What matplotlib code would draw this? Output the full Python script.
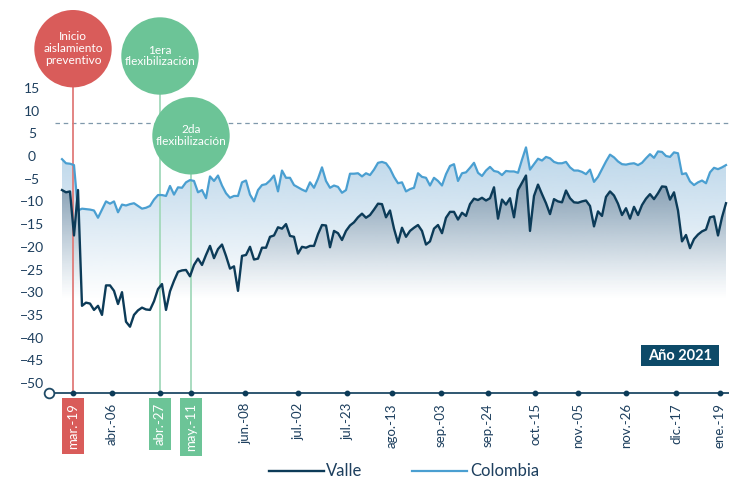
import numpy as np
import matplotlib
matplotlib.use("Agg")
from matplotlib import pyplot as plt
from matplotlib import colors as mcolors
from matplotlib.patches import Polygon, Circle, Rectangle
from matplotlib.lines import Line2D
from matplotlib.transforms import IdentityTransform

plt.rcParams['font.family'] = ['Lato', 'DejaVu Sans']

# series (one value per trading day, mar-2020 .. ene-2021)
valle = [
    -7.5, -8.0, -7.8, -17.5, -7.5, -33.0, -32.3, -32.5, -33.9, -33.0,
    -35.0, -28.5, -28.5, -29.7, -32.6, -30.0, -36.5, -37.6, -35.0, -34.0,
    -33.4, -33.8, -33.9, -32.0, -29.3, -28.2, -33.9, -29.8, -27.5, -25.5,
    -25.2, -25.1, -26.5, -24.0, -22.6, -24.0, -21.8, -19.8, -22.5, -20.5,
    -19.5, -22.0, -24.8, -24.3, -29.7, -22.0, -21.8, -20.0, -22.8, -22.6,
    -20.2, -20.2, -17.8, -17.5, -15.7, -16.0, -15.0, -17.6, -17.8, -21.5,
    -20.0, -20.2, -19.8, -19.8, -17.2, -15.2, -15.3, -20.1, -16.5, -17.0,
    -18.5, -16.5, -15.3, -14.6, -13.5, -12.7, -13.6, -13.0, -11.8, -10.5,
    -10.6, -13.5, -12.0, -16.0, -19.1, -15.8, -17.8, -16.5, -15.8, -15.2,
    -16.5, -19.5, -18.8, -16.0, -15.2, -17.0, -13.6, -12.3, -12.3, -14.0,
    -12.5, -13.2, -10.6, -9.4, -9.7, -9.2, -9.8, -9.3, -6.9, -13.8,
    -9.6, -10.7, -9.3, -13.5, -7.5, -5.9, -4.3, -16.5, -8.8, -6.3,
    -8.4, -10.4, -12.8, -9.5, -10.0, -10.2, -7.6, -9.3, -10.2, -10.3,
    -10.0, -9.8, -11.0, -15.5, -12.2, -13.2, -9.0, -7.8, -8.7, -10.5,
    -13.0, -11.5, -13.8, -11.2, -13.0, -10.8, -9.4, -8.4, -9.5, -8.2,
    -6.7, -6.8, -9.6, -8.0, -12.0, -18.8, -17.4, -20.3, -18.3, -17.3,
    -16.6, -16.2, -13.5, -13.3, -17.5, -13.5, -10.4,
]
colombia = [
    -0.7, -1.6, -1.7, -2.0, -12.0, -11.6, -11.7, -11.8, -12.0, -13.6,
    -11.8, -10.0, -10.5, -10.0, -12.4, -10.7, -10.9, -10.6, -10.4, -11.0,
    -11.6, -11.4, -11.0, -9.6, -8.6, -8.6, -8.8, -6.6, -8.5, -6.9,
    -7.0, -5.8, -5.3, -5.5, -8.0, -7.5, -9.3, -4.5, -5.5, -4.3,
    -6.5, -8.2, -9.2, -8.8, -8.8, -5.8, -5.4, -8.5, -10.0, -7.5,
    -6.4, -6.2, -5.4, -4.3, -7.8, -3.2, -4.8, -4.8, -6.4, -6.9,
    -7.4, -7.8, -5.8, -7.0, -5.0, -2.5, -5.5, -7.0, -6.5, -6.8,
    -8.1, -7.5, -3.9, -3.9, -3.8, -4.5, -3.8, -4.2, -3.0, -1.5,
    -1.3, -1.6, -2.8, -4.6, -6.0, -5.8, -7.8, -7.3, -7.0, -3.8,
    -4.6, -4.8, -6.5, -4.8, -5.5, -6.5, -4.0, -2.2, -1.8, -5.5,
    -3.8, -3.6, -2.6, -1.5, -3.7, -4.4, -3.2, -2.4, -3.3, -3.5,
    -4.2, -3.3, -3.4, -3.4, -3.7, -0.8, 1.9, -3.0, -1.8, -0.6,
    -1.0, -0.2, -0.5, -1.3, -1.6, -1.6, -1.3, -2.5, -3.2, -3.2,
    -3.5, -4.0, -3.0, -5.7, -4.6, -2.9, -1.2, 0.3, -0.3, -1.2,
    -1.8, -1.9, -1.7, -1.6, -2.0, -1.5, -0.5, 0.4, -0.4, 1.0,
    0.9, 0.0, -0.2, 0.8, 0.6, -4.0, -3.8, -5.6, -6.4, -5.8,
    -5.4, -6.0, -3.6, -2.6, -2.9, -2.5, -2.0,
]
tick_pos = [2.75, 12.5, 24.5, 32.25, 45.75, 59, 71.25, 82.5, 94.75,
            106.5, 118.25, 129, 141, 153.5, 164.5]
tick_labels = ["mar.-19", "abr.-06", "abr.-27", "may.-11", "jun.-08", "jul.-02",
               "jul.-23", "ago.-13", "sep.-03", "sep.-24", "oct.-15", "nov.-05",
               "nov.-26", "dic.-17", "ene.-19"]
ref_level = 7.3

navy = "#0c3b58"
txt = "#1d3f5e"
blue = "#4a9fd1"
red = "#d95c5a"
green = "#6cc497"

x = np.arange(len(valle))

fig = plt.figure(figsize=(7.29, 4.82), dpi=100)
ax = fig.add_axes([49/729, 89/482, 680/729, 393/482])


def gradient_fill(xs, ys, rgb, a_top, y_top, y_bot, power, z):
    n = 256
    t = np.linspace(1, 0, n)
    img = np.zeros((n, 1, 4))
    img[:, :, :3] = mcolors.to_rgb(rgb)
    img[:, 0, 3] = a_top * t ** power
    im = ax.imshow(img, aspect='auto', extent=[xs[0], xs[-1], y_bot, y_top],
                   origin='upper', zorder=z, interpolation='bilinear')
    verts = np.vstack([[xs[0], y_bot], np.column_stack([xs, ys]), [xs[-1], y_bot]])
    clip = Polygon(verts, closed=True, facecolor='none', edgecolor='none')
    ax.add_patch(clip)
    im.set_clip_path(clip)


gradient_fill(x, colombia, "#a9cbe4", 0.8, 2.0, -31.5, 1.0, 1)
gradient_fill(x, valle, "#34506a", 0.5, -4.0, -31.5, 1.3, 2)

ax.axhline(ref_level, xmin=6/680, color="#7f98ab", lw=0.9, ls=(0, (3.6, 3)), zorder=2)

# event markers
events = [("Inicio\naislamiento\npreventivo", 0, 48.7, red, "#e07b79"),
          ("1era\nflexibilización", 2, 56.0, green, "#a3d9bb"),
          ("2da\nflexibilización", 3, 135.8, green, "#a3d9bb")]
ax.set_xlim(-3.25, 166.75)
ax.set_ylim(-52.2, 34.36)
for label, ti, ytop, c, lc in events:
    xp = tick_pos[ti]
    xd = ax.transData.transform((xp, 0))[0]
    yd = 482 - ytop
    yv = ax.transData.inverted().transform((xd, yd))[1]
    ax.plot([xp, xp], [-52.2, yv], color=lc, lw=1.3, zorder=3)
    ax.add_patch(Circle((xd, yd), 38.7, transform=IdentityTransform(),
                        facecolor=c, edgecolor='none', zorder=10, clip_on=False))
    ax.text(xd, yd, label, transform=IdentityTransform(), ha='center', va='center',
            color='white', fontsize=8.6, linespacing=1.1, zorder=11)

ax.plot(x, colombia, color=blue, lw=1.6, zorder=4)
ax.plot(x, valle, color=navy, lw=1.7, zorder=5)

ax.set_xlim(-3.25, 166.75)
ax.set_ylim(-52.2, 34.36)

for s in ["left", "top", "right"]:
    ax.spines[s].set_visible(False)
ax.spines["bottom"].set_color("#1f4a66")
ax.spines["bottom"].set_linewidth(1.3)

ax.set_yticks(range(-50, 16, 5))
ax.tick_params(axis='y', length=0, pad=12.2, labelsize=10, labelcolor=txt)
for lbl in ax.get_yticklabels():
    lbl.set_ha('center')

ax.set_xticks(tick_pos, tick_labels, rotation=90)
ax.tick_params(axis='x', length=0, pad=7.2, labelsize=9.5, labelcolor=txt)
xl = ax.get_xticklabels()
for i, c in [(0, red), (2, green), (3, green)]:
    xl[i].set_color('white')
    xl[i].set_bbox(dict(boxstyle='square,pad=0.4', fc=c, ec='none'))

ax.plot(tick_pos, [0]*len(tick_pos), 'o', ms=3.2, color=navy,
        transform=ax.get_xaxis_transform(), clip_on=False, zorder=6)
ax.plot([-3.25], [0], 'o', ms=7, mfc='white', mec="#1f4a66", mew=1.3,
        transform=ax.get_xaxis_transform(), clip_on=False, zorder=7)

ax.add_patch(Rectangle((0.8706, 0.0687), 0.1147, 0.0534, transform=ax.transAxes,
                       facecolor="#0d4a68", edgecolor='none', zorder=8))
ax.text(0.928, 0.0954, "Año 2021", transform=ax.transAxes, ha='center', va='center',
        color='white', fontsize=10.5, fontweight='bold', zorder=9)

handles = [Line2D([], [], color=navy, lw=1.7), Line2D([], [], color=blue, lw=1.6)]
fig.legend(handles, ["Valle", "Colombia"], loc='center', bbox_to_anchor=(0.554, 0.022),
           ncol=2, frameon=False, fontsize=12, handlelength=3.3, handletextpad=0.15,
           columnspacing=3.0, labelcolor=txt)

fig.savefig("out.png", dpi=100)
